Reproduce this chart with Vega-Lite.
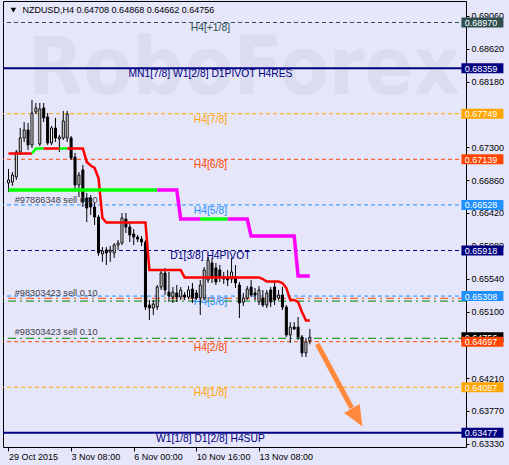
{
  "$schema": "https://vega.github.io/schema/vega-lite/v6.json",
  "width": 463,
  "height": 446,
  "autosize": {"type": "none"},
  "padding": {"left": 3, "top": 1, "right": 43, "bottom": 18},
  "background": "#E6E6FA",
  "config": {
    "view": {"stroke": "#000000", "strokeWidth": 1},
    "font": "Liberation Sans"
  },
  "datasets": {
    "candles": [
      {"i":0,"o":0.66822,"h":0.67010,"l":0.66701,"c":0.66862},
      {"i":1,"o":0.66835,"h":0.66969,"l":0.66782,"c":0.66929},
      {"i":2,"o":0.66902,"h":0.67263,"l":0.66862,"c":0.67236},
      {"i":3,"o":0.67236,"h":0.67558,"l":0.67196,"c":0.67424},
      {"i":4,"o":0.67424,"h":0.67638,"l":0.67370,"c":0.67531},
      {"i":5,"o":0.67531,"h":0.67625,"l":0.67263,"c":0.67330},
      {"i":6,"o":0.67330,"h":0.67933,"l":0.67290,"c":0.67759},
      {"i":7,"o":0.67772,"h":0.67893,"l":0.67745,"c":0.67826},
      {"i":8,"o":0.67343,"h":0.67893,"l":0.67317,"c":0.67813},
      {"i":9,"o":0.67826,"h":0.67893,"l":0.67638,"c":0.67692},
      {"i":10,"o":0.67705,"h":0.67759,"l":0.67330,"c":0.67357},
      {"i":11,"o":0.67357,"h":0.67585,"l":0.67330,"c":0.67558},
      {"i":12,"o":0.67558,"h":0.67692,"l":0.67370,"c":0.67424},
      {"i":13,"o":0.67411,"h":0.67464,"l":0.67236,"c":0.67437},
      {"i":14,"o":0.67424,"h":0.67786,"l":0.67397,"c":0.67652},
      {"i":15,"o":0.67424,"h":0.67786,"l":0.67370,"c":0.67745},
      {"i":16,"o":0.67424,"h":0.67451,"l":0.67130,"c":0.67156},
      {"i":17,"o":0.67169,"h":0.67223,"l":0.66728,"c":0.66795},
      {"i":18,"o":0.66795,"h":0.66969,"l":0.66634,"c":0.66929},
      {"i":19,"o":0.66996,"h":0.67063,"l":0.66500,"c":0.66567},
      {"i":20,"o":0.66621,"h":0.66688,"l":0.66299,"c":0.66487},
      {"i":21,"o":0.66621,"h":0.66661,"l":0.66393,"c":0.66500},
      {"i":22,"o":0.66500,"h":0.66567,"l":0.66259,"c":0.66366},
      {"i":23,"o":0.66366,"h":0.66393,"l":0.65845,"c":0.65885},
      {"i":24,"o":0.65871,"h":0.65964,"l":0.65764,"c":0.65911},
      {"i":25,"o":0.65925,"h":0.65964,"l":0.65724,"c":0.65885},
      {"i":26,"o":0.65898,"h":0.65978,"l":0.65764,"c":0.65925},
      {"i":27,"o":0.65885,"h":0.66018,"l":0.65818,"c":0.65991},
      {"i":28,"o":0.65991,"h":0.66058,"l":0.65925,"c":0.66018},
      {"i":29,"o":0.66018,"h":0.66420,"l":0.65991,"c":0.66353},
      {"i":30,"o":0.66339,"h":0.66420,"l":0.66152,"c":0.66232},
      {"i":31,"o":0.66232,"h":0.66299,"l":0.66031,"c":0.66125},
      {"i":32,"o":0.66139,"h":0.66206,"l":0.65991,"c":0.66098},
      {"i":33,"o":0.66098,"h":0.66125,"l":0.66031,"c":0.66071},
      {"i":34,"o":0.66071,"h":0.66111,"l":0.65978,"c":0.66031},
      {"i":35,"o":0.66031,"h":0.66058,"l":0.65121,"c":0.65161},
      {"i":36,"o":0.65188,"h":0.65255,"l":0.64987,"c":0.65148},
      {"i":37,"o":0.65148,"h":0.65255,"l":0.65054,"c":0.65201},
      {"i":38,"o":0.65161,"h":0.65456,"l":0.65121,"c":0.65429},
      {"i":39,"o":0.65429,"h":0.65657,"l":0.65389,"c":0.65617},
      {"i":40,"o":0.65617,"h":0.65684,"l":0.65322,"c":0.65389},
      {"i":41,"o":0.65362,"h":0.65630,"l":0.65228,"c":0.65308},
      {"i":42,"o":0.65295,"h":0.65429,"l":0.65215,"c":0.65362},
      {"i":43,"o":0.65349,"h":0.65456,"l":0.65228,"c":0.65295},
      {"i":44,"o":0.65295,"h":0.65429,"l":0.65255,"c":0.65389},
      {"i":45,"o":0.65322,"h":0.65362,"l":0.65255,"c":0.65295},
      {"i":46,"o":0.65295,"h":0.65442,"l":0.65268,"c":0.65389},
      {"i":47,"o":0.65402,"h":0.65483,"l":0.65215,"c":0.65282},
      {"i":48,"o":0.65349,"h":0.65389,"l":0.65255,"c":0.65282},
      {"i":49,"o":0.65282,"h":0.65523,"l":0.65054,"c":0.65456},
      {"i":50,"o":0.65282,"h":0.65697,"l":0.65255,"c":0.65657},
      {"i":51,"o":0.65523,"h":0.65831,"l":0.65483,"c":0.65791},
      {"i":52,"o":0.65751,"h":0.65818,"l":0.65483,"c":0.65550},
      {"i":53,"o":0.65684,"h":0.65751,"l":0.65456,"c":0.65496},
      {"i":54,"o":0.65657,"h":0.65724,"l":0.65496,"c":0.65550},
      {"i":55,"o":0.65563,"h":0.65630,"l":0.65469,"c":0.65536},
      {"i":56,"o":0.65563,"h":0.65657,"l":0.65442,"c":0.65523},
      {"i":57,"o":0.65536,"h":0.65818,"l":0.65483,"c":0.65630},
      {"i":58,"o":0.65563,"h":0.65724,"l":0.65416,"c":0.65483},
      {"i":59,"o":0.65456,"h":0.65496,"l":0.65014,"c":0.65215},
      {"i":60,"o":0.65228,"h":0.65349,"l":0.65174,"c":0.65282},
      {"i":61,"o":0.65282,"h":0.65442,"l":0.65255,"c":0.65402},
      {"i":62,"o":0.65429,"h":0.65523,"l":0.65295,"c":0.65322},
      {"i":63,"o":0.65349,"h":0.65416,"l":0.65255,"c":0.65322},
      {"i":64,"o":0.65228,"h":0.65442,"l":0.65188,"c":0.65389},
      {"i":65,"o":0.65282,"h":0.65389,"l":0.65161,"c":0.65188},
      {"i":66,"o":0.65188,"h":0.65389,"l":0.65148,"c":0.65349},
      {"i":67,"o":0.65389,"h":0.65429,"l":0.65161,"c":0.65228},
      {"i":68,"o":0.65429,"h":0.65496,"l":0.65188,"c":0.65255},
      {"i":69,"o":0.65282,"h":0.65389,"l":0.65255,"c":0.65322},
      {"i":70,"o":0.65322,"h":0.65429,"l":0.65121,"c":0.65161},
      {"i":71,"o":0.65161,"h":0.65188,"l":0.64760,"c":0.64787},
      {"i":72,"o":0.64787,"h":0.64960,"l":0.64680,"c":0.64893},
      {"i":73,"o":0.64893,"h":0.64960,"l":0.64854,"c":0.64867},
      {"i":74,"o":0.64893,"h":0.65027,"l":0.64720,"c":0.64760},
      {"i":75,"o":0.64760,"h":0.64787,"l":0.64492,"c":0.64546},
      {"i":76,"o":0.64546,"h":0.64747,"l":0.64492,"c":0.64693},
      {"i":77,"o":0.64708,"h":0.64868,"l":0.64662,"c":0.64756}
    ],
    "trail": [
      {"i":0,"v":0.67216,"seg":"a","state":"down"},
      {"i":6,"v":0.67216,"seg":"a","state":"down"},
      {"i":6,"v":0.67216,"seg":"b","state":"up"},
      {"i":7,"v":0.67283,"seg":"b","state":"up"},
      {"i":9,"v":0.67283,"seg":"b","state":"up"},
      {"i":9,"v":0.67283,"seg":"c","state":"down"},
      {"i":13,"v":0.67283,"seg":"c","state":"down"},
      {"i":13,"v":0.67283,"seg":"d","state":"up"},
      {"i":15,"v":0.67283,"seg":"d","state":"up"},
      {"i":15,"v":0.67283,"seg":"e","state":"down"},
      {"i":19,"v":0.67283,"seg":"e","state":"down"},
      {"i":20,"v":0.67103,"seg":"e","state":"down"},
      {"i":21,"v":0.67056,"seg":"e","state":"down"},
      {"i":22,"v":0.67023,"seg":"e","state":"down"},
      {"i":23,"v":0.66889,"seg":"e","state":"down"},
      {"i":24,"v":0.66353,"seg":"e","state":"down"},
      {"i":25,"v":0.66292,"seg":"e","state":"down"},
      {"i":35,"v":0.66292,"seg":"e","state":"down"},
      {"i":36,"v":0.65657,"seg":"e","state":"down"},
      {"i":44,"v":0.65657,"seg":"e","state":"down"},
      {"i":45,"v":0.65557,"seg":"e","state":"down"},
      {"i":64,"v":0.65557,"seg":"e","state":"down"},
      {"i":65,"v":0.65536,"seg":"e","state":"down"},
      {"i":66,"v":0.65503,"seg":"e","state":"down"},
      {"i":69,"v":0.65503,"seg":"e","state":"down"},
      {"i":70,"v":0.65483,"seg":"e","state":"down"},
      {"i":71,"v":0.65416,"seg":"e","state":"down"},
      {"i":72,"v":0.65255,"seg":"e","state":"down"},
      {"i":73,"v":0.65255,"seg":"e","state":"down"},
      {"i":74,"v":0.65228,"seg":"e","state":"down"},
      {"i":75,"v":0.65094,"seg":"e","state":"down"},
      {"i":76,"v":0.64980,"seg":"e","state":"down"},
      {"i":77,"v":0.64980,"seg":"e","state":"down"}
    ],
    "stepline": [
      {"i":0,"v":0.66728,"seg":"a","state":"up"},
      {"i":38,"v":0.66728,"seg":"a","state":"up"},
      {"i":38,"v":0.66728,"seg":"b","state":"down"},
      {"i":43,"v":0.66728,"seg":"b","state":"down"},
      {"i":44,"v":0.66339,"seg":"b","state":"down"},
      {"i":49,"v":0.66339,"seg":"b","state":"down"},
      {"i":49,"v":0.66339,"seg":"c","state":"up"},
      {"i":56,"v":0.66339,"seg":"c","state":"up"},
      {"i":56,"v":0.66339,"seg":"d","state":"down"},
      {"i":61,"v":0.66339,"seg":"d","state":"down"},
      {"i":62,"v":0.66111,"seg":"d","state":"down"},
      {"i":73,"v":0.66111,"seg":"d","state":"down"},
      {"i":74,"v":0.65577,"seg":"d","state":"down"},
      {"i":77,"v":0.65577,"seg":"d","state":"down"}
    ],
    "levels": [
      {"v":0.68970,"oct":"+1/8","label":"H4[+1/8]"},
      {"v":0.68359,"oct":"8/8","label":"MN1[7/8] W1[2/8] D1PIVOT H4RES"},
      {"v":0.67749,"oct":"7/8","label":"H4[7/8]"},
      {"v":0.67139,"oct":"6/8","label":"H4[6/8]"},
      {"v":0.66528,"oct":"5/8","label":"H4[5/8]"},
      {"v":0.65918,"oct":"4/8","label":"D1[3/8] H4PIVOT"},
      {"v":0.65308,"oct":"3/8","label":"H4[3/8]"},
      {"v":0.64697,"oct":"2/8","label":"H4[2/8]"},
      {"v":0.64087,"oct":"1/8","label":"H4[1/8]"},
      {"v":0.63477,"oct":"0/8","label":"W1[1/8] D1[2/8] H4SUP"}
    ],
    "orders": [
      {"v":0.65278,"kind":"stop"},
      {"v":0.65241,"kind":"entry"},
      {"v":0.64743,"kind":"entry"}
    ],
    "tickets": [
      {"v":0.66547,"text":"#97886348 sell 0.00"},
      {"v":0.65309,"text":"#98303423 sell 0.10"},
      {"v":0.64787,"text":"#98303423 sell 0.10"}
    ],
    "bid": [{"v":0.64756}],
    "arrow": [
      {"i":78.9,"v":0.64666},
      {"i":87.7,"v":0.63809}
    ],
    "arrowhead": [{"i":89.1,"v":0.63682}],
    "header": [{"i":3.6,"v":0.69137,"text":"NZDUSD,H4  0.64708 0.64868 0.64662 0.64756"}],
    "marker": [{"i":1.25,"v":0.69137}],
    "watermark": [{"i":60.1,"v":0.68334,"text":"RoboForex"}]
  },
  "resolve": {"scale": {"color": "independent", "stroke": "independent", "fill": "independent"}},
  "layer": [
    {
      "data": {"name": "watermark"},
      "mark": {"type": "text", "fontSize": 80, "fontWeight": "bold", "font": "DejaVu Sans Condensed", "color": "#DCDCF1", "align": "center", "baseline": "middle"},
      "encoding": {
        "x": {"field": "i", "type": "quantitative", "scale": {"domain": [-0.125, 115.625], "nice": false, "zero": false}, "title": null,
          "axis": {"values": [0, 16, 32, 48, 64], "labelExpr": "datum.value==0?'29 Oct 2015':datum.value==16?'3 Nov 08:00':datum.value==32?'6 Nov 00:00':datum.value==48?'10 Nov 16:00':'13 Nov 08:00'", "labelAlign": "left", "labelBaseline": "top", "labelPadding": 1, "tickSize": 4, "tickColor": "#000000", "domain": false, "grid": false, "labelFontSize": 9, "labelColor": "#000000", "labelFlush": false, "labelOverlap": false, "labelFont": "Liberation Sans"}},
        "y": {"field": "v", "type": "quantitative", "scale": {"domain": [0.632873, 0.692578], "nice": false, "zero": false}, "title": null,
          "axis": {"orient": "right", "values": [0.6906, 0.6862, 0.6818, 0.673, 0.6686, 0.6642, 0.6598, 0.6554, 0.651, 0.6421, 0.6377, 0.6333], "format": ".5f", "tickSize": 3, "tickColor": "#000000", "labelPadding": 2, "domain": false, "grid": false, "labelFontSize": 9, "labelColor": "#000000", "labelOverlap": false, "labelFlush": false, "labelFont": "Liberation Sans"}},
        "text": {"field": "text"}
      }
    },
    {
      "data": {"name": "levels"},
      "transform": [{"filter": "datum.oct != '8/8' && datum.oct != '0/8'"}],
      "mark": {"type": "rule", "strokeWidth": 1, "strokeDash": [4, 3]},
      "encoding": {
        "y": {"field": "v", "type": "quantitative", "scale": {"domain": [0.632873, 0.692578], "nice": false, "zero": false}, "title": null},
        "color": {"field": "oct", "type": "nominal", "legend": null, "scale": {"domain": ["+1/8","8/8","7/8","6/8","5/8","4/8","3/8","2/8","1/8","0/8"], "range": ["#2F4F4F","#000080","#FFA500","#FF4500","#1E90FF","#000080","#1E90FF","#FF4500","#FFA500","#000080"]}}
      }
    },
    {
      "data": {"name": "levels"},
      "transform": [{"filter": "datum.oct == '8/8' || datum.oct == '0/8'"}],
      "mark": {"type": "rule", "strokeWidth": 2, "color": "#000080"},
      "encoding": {
        "y": {"field": "v", "type": "quantitative", "scale": {"domain": [0.632873, 0.692578], "nice": false, "zero": false}, "title": null}
      }
    },
    {
      "data": {"name": "orders"},
      "mark": {"type": "rule", "strokeWidth": 1, "strokeDash": [8, 4, 2, 4]},
      "encoding": {
        "y": {"field": "v", "type": "quantitative", "scale": {"domain": [0.632873, 0.692578], "nice": false, "zero": false}, "title": null},
        "color": {"field": "kind", "type": "nominal", "legend": null, "scale": {"domain": ["entry", "stop"], "range": ["#008000", "#FF4500"]}}
      }
    },
    {
      "data": {"name": "levels"},
      "mark": {"type": "text", "fontSize": 10.3, "align": "center", "baseline": "top", "dy": 1},
      "encoding": {
        "x": {"datum": 51.6, "type": "quantitative", "scale": {"domain": [-0.125, 115.625], "nice": false, "zero": false}, "title": null},
        "y": {"field": "v", "type": "quantitative", "scale": {"domain": [0.632873, 0.692578], "nice": false, "zero": false}, "title": null},
        "text": {"field": "label"},
        "color": {"field": "oct", "type": "nominal", "legend": null, "scale": {"domain": ["+1/8","8/8","7/8","6/8","5/8","4/8","3/8","2/8","1/8","0/8"], "range": ["#2F4F4F","#000080","#FFA500","#FF4500","#1E90FF","#000080","#1E90FF","#FF4500","#FFA500","#000080"]}}
      }
    },
    {
      "data": {"name": "candles"},
      "mark": {"type": "rule", "color": "#000000", "strokeWidth": 1},
      "encoding": {
        "x": {"field": "i", "type": "quantitative", "scale": {"domain": [-0.125, 115.625], "nice": false, "zero": false}, "title": null},
        "y": {"field": "l", "type": "quantitative", "scale": {"domain": [0.632873, 0.692578], "nice": false, "zero": false}, "title": null},
        "y2": {"field": "h"}
      }
    },
    {
      "data": {"name": "candles"},
      "mark": {"type": "bar", "width": 2, "stroke": "#000000", "strokeWidth": 1},
      "encoding": {
        "x": {"field": "i", "type": "quantitative", "scale": {"domain": [-0.125, 115.625], "nice": false, "zero": false}, "title": null},
        "y": {"field": "o", "type": "quantitative", "scale": {"domain": [0.632873, 0.692578], "nice": false, "zero": false}, "title": null},
        "y2": {"field": "c"},
        "fill": {"condition": {"test": "datum.c >= datum.o", "value": "#FFFFFF"}, "value": "#000000"}
      }
    },
    {
      "data": {"name": "trail"},
      "mark": {"type": "line", "strokeWidth": 2.5, "interpolate": "linear"},
      "encoding": {
        "x": {"field": "i", "type": "quantitative", "scale": {"domain": [-0.125, 115.625], "nice": false, "zero": false}, "title": null},
        "y": {"field": "v", "type": "quantitative", "scale": {"domain": [0.632873, 0.692578], "nice": false, "zero": false}, "title": null},
        "detail": {"field": "seg"},
        "color": {"field": "state", "type": "nominal", "legend": null, "scale": {"domain": ["up", "down"], "range": ["#00FF00", "#FF0000"]}}
      }
    },
    {
      "data": {"name": "stepline"},
      "mark": {"type": "line", "strokeWidth": 3.5, "interpolate": "linear"},
      "encoding": {
        "x": {"field": "i", "type": "quantitative", "scale": {"domain": [-0.125, 115.625], "nice": false, "zero": false}, "title": null},
        "y": {"field": "v", "type": "quantitative", "scale": {"domain": [0.632873, 0.692578], "nice": false, "zero": false}, "title": null},
        "detail": {"field": "seg"},
        "color": {"field": "state", "type": "nominal", "legend": null, "scale": {"domain": ["up", "down"], "range": ["#00FF00", "#FF00FF"]}}
      }
    },
    {
      "data": {"name": "tickets"},
      "mark": {"type": "text", "fontSize": 9.2, "align": "left", "baseline": "alphabetic", "color": "#404048"},
      "encoding": {
        "x": {"datum": 1.6, "type": "quantitative", "scale": {"domain": [-0.125, 115.625], "nice": false, "zero": false}, "title": null},
        "y": {"field": "v", "type": "quantitative", "scale": {"domain": [0.632873, 0.692578], "nice": false, "zero": false}, "title": null},
        "text": {"field": "text"}
      }
    },
    {
      "data": {"name": "arrow"},
      "mark": {"type": "line", "strokeWidth": 5, "color": "#FF8A3D", "strokeCap": "butt"},
      "encoding": {
        "x": {"field": "i", "type": "quantitative", "scale": {"domain": [-0.125, 115.625], "nice": false, "zero": false}, "title": null},
        "y": {"field": "v", "type": "quantitative", "scale": {"domain": [0.632873, 0.692578], "nice": false, "zero": false}, "title": null}
      }
    },
    {
      "data": {"name": "arrowhead"},
      "mark": {"type": "point", "shape": "M-0.85,-1L0.85,-1L0,1Z", "size": 441, "angle": 330, "filled": true, "color": "#FF8A3D", "opacity": 1, "strokeWidth": 0},
      "encoding": {
        "x": {"field": "i", "type": "quantitative", "scale": {"domain": [-0.125, 115.625], "nice": false, "zero": false}, "title": null},
        "y": {"field": "v", "type": "quantitative", "scale": {"domain": [0.632873, 0.692578], "nice": false, "zero": false}, "title": null}
      }
    },
    {
      "data": {"name": "bid"},
      "mark": {"type": "tick", "orient": "horizontal", "size": 42, "thickness": 10, "color": "#000000", "opacity": 1},
      "encoding": {
        "x": {"datum": 121.1, "type": "quantitative", "scale": {"domain": [-0.125, 115.625], "nice": false, "zero": false}, "title": null},
        "y": {"field": "v", "type": "quantitative", "scale": {"domain": [0.632873, 0.692578], "nice": false, "zero": false}, "title": null}
      }
    },
    {
      "data": {"name": "bid"},
      "mark": {"type": "text", "fontSize": 9, "align": "left", "baseline": "middle", "dy": 0.5, "color": "#FFFFFF"},
      "encoding": {
        "x": {"datum": 116.6, "type": "quantitative", "scale": {"domain": [-0.125, 115.625], "nice": false, "zero": false}, "title": null},
        "y": {"field": "v", "type": "quantitative", "scale": {"domain": [0.632873, 0.692578], "nice": false, "zero": false}, "title": null},
        "text": {"field": "v", "format": ".5f"}
      }
    },
    {
      "data": {"name": "levels"},
      "mark": {"type": "tick", "orient": "horizontal", "size": 42, "thickness": 10, "opacity": 1},
      "encoding": {
        "x": {"datum": 121.1, "type": "quantitative", "scale": {"domain": [-0.125, 115.625], "nice": false, "zero": false}, "title": null},
        "y": {"field": "v", "type": "quantitative", "scale": {"domain": [0.632873, 0.692578], "nice": false, "zero": false}, "title": null},
        "color": {"field": "oct", "type": "nominal", "legend": null, "scale": {"domain": ["+1/8","8/8","7/8","6/8","5/8","4/8","3/8","2/8","1/8","0/8"], "range": ["#2F4F4F","#000080","#FFA500","#FF4500","#1E90FF","#000080","#1E90FF","#FF4500","#FFA500","#000080"]}}
      }
    },
    {
      "data": {"name": "levels"},
      "mark": {"type": "text", "fontSize": 9, "align": "left", "baseline": "middle", "dy": 0.5, "color": "#FFFFFF"},
      "encoding": {
        "x": {"datum": 116.6, "type": "quantitative", "scale": {"domain": [-0.125, 115.625], "nice": false, "zero": false}, "title": null},
        "y": {"field": "v", "type": "quantitative", "scale": {"domain": [0.632873, 0.692578], "nice": false, "zero": false}, "title": null},
        "text": {"field": "v", "format": ".5f"}
      }
    },
    {
      "data": {"name": "marker"},
      "mark": {"type": "point", "shape": "triangle-down", "size": 30, "filled": true, "color": "#000000", "opacity": 1},
      "encoding": {
        "x": {"field": "i", "type": "quantitative", "scale": {"domain": [-0.125, 115.625], "nice": false, "zero": false}, "title": null},
        "y": {"field": "v", "type": "quantitative", "scale": {"domain": [0.632873, 0.692578], "nice": false, "zero": false}, "title": null}
      }
    },
    {
      "data": {"name": "header"},
      "mark": {"type": "text", "fontSize": 9, "align": "left", "baseline": "middle", "color": "#000000"},
      "encoding": {
        "x": {"field": "i", "type": "quantitative", "scale": {"domain": [-0.125, 115.625], "nice": false, "zero": false}, "title": null},
        "y": {"field": "v", "type": "quantitative", "scale": {"domain": [0.632873, 0.692578], "nice": false, "zero": false}, "title": null},
        "text": {"field": "text"}
      }
    }
  ]
}
